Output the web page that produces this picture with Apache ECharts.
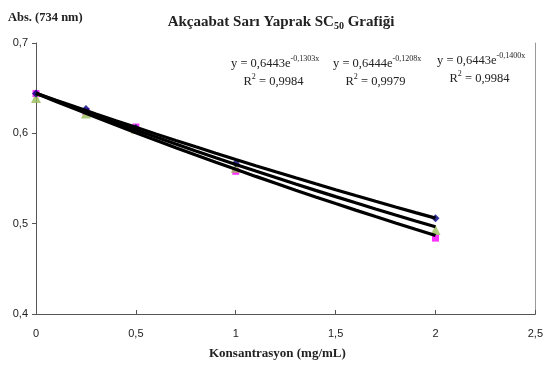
<!DOCTYPE html>
<html>
<head>
<meta charset="utf-8">
<script src="https://cdn.jsdelivr.net/npm/echarts@6/dist/echarts.min.js"></script>
<style>
  html, body { margin: 0; padding: 0; background: #fff; }
  #chart { width: 546px; height: 372px; }
</style>
</head>
<body>
<div id="chart"></div>
<script>
// Concentrations (mg/mL) and measured absorbance at 734 nm
const concentrations = [0, 0.25, 0.5, 1, 2];
const absNavy    = [0.644, 0.627, 0.606, 0.567, 0.506];
const absMagenta = [0.644, 0.624, 0.607, 0.558, 0.484];
const absGreen   = [0.639, 0.622, 0.605, 0.562, 0.493];

// Exponential trendline coefficients y = a * e^(b x), with R²
const fitNavy    = { a: 0.6444, b: -0.1208, r2: 0.9979 };
const fitGreen   = { a: 0.6443, b: -0.1303, r2: 0.9984 };
const fitMagenta = { a: 0.6443, b: -0.1400, r2: 0.9984 };

const xTicks = [0, 0.5, 1, 1.5, 2, 2.5];
const yTicks = [0.4, 0.5, 0.6, 0.7];

const comma = (v, d) => (d === undefined ? String(v) : v.toFixed(d)).replace('.', ',');

// sample a trendline over the measured concentration range
function trend(fit) {
  const pts = [];
  for (let i = 0; i <= 20; i++) {
    const x = 2 * i / 20;
    pts.push([x, fit.a * Math.exp(fit.b * x)]);
  }
  return pts;
}

function pairs(ys) { return concentrations.map((x, i) => [x, ys[i]]); }

const serif = 'Liberation Serif';
function eqText(fit, x, y) {
  return {
    type: 'text', left: x, top: y, z: 100,
    style: {
      text: '{m|y = ' + comma(fit.a, 4) + 'e}{s|' + comma(fit.b, 4) + 'x}\n{m|    R}{s|2}{m| = ' + comma(fit.r2, 4) + '}',
      rich: {
        m: { fontFamily: serif, fontSize: 12.5, fill: '#222', lineHeight: 18 },
        s: { fontFamily: serif, fontSize: 8, fill: '#222', verticalAlign: 'top', lineHeight: 18, padding: [0, 0, 6, 0] }
      }
    }
  };
}

const chart = echarts.init(document.getElementById('chart'));
const axisFont = { fontFamily: 'Liberation Sans Narrow, Liberation Sans', fontSize: 11, color: '#222' };

const trendStyle = { color: '#000', width: 3.2 };

chart.setOption({
  animation: false,
  backgroundColor: '#fff',
  grid: { left: 36, right: 8, top: 43, bottom: 58 },
  title: {
    text: 'Akçaabat Sarı Yaprak SC{sub|50} Grafiği',
    left: 276, top: 8, textAlign: 'center',
    textStyle: {
      fontFamily: serif, fontWeight: 'bold', fontSize: 15, color: '#222',
      rich: { sub: { fontFamily: serif, fontWeight: 'bold', fontSize: 10, color: '#222', verticalAlign: 'bottom', padding: [8, 0, 0, 0] } }
    }
  },
  graphic: [
    { type: 'text', left: 8, top: 11, style: { text: 'Abs. (734 nm)', fontFamily: serif, fontWeight: 'bold', fontSize: 12.5, fill: '#222' } },
    { type: 'text', left: 209, top: 347, style: { text: 'Konsantrasyon (mg/mL)', fontFamily: serif, fontWeight: 'bold', fontSize: 13, fill: '#222' } },
    eqText(fitGreen, 231, 55),
    eqText(fitNavy, 333, 55),
    eqText(fitMagenta, 437, 52)
  ],
  xAxis: {
    type: 'value', min: 0, max: 2.5, interval: 0.5,
    axisLine: { lineStyle: { color: '#555', width: 1 } },
    axisTick: { inside: true, length: 4, lineStyle: { color: '#555' } },
    axisLabel: Object.assign({ margin: 14, formatter: v => xTicks.includes(v) ? comma(v) : '' }, axisFont),
    splitLine: { show: false }
  },
  yAxis: [{
    type: 'value', min: 0.4, max: 0.7, interval: 0.1,
    axisLine: { show: true, lineStyle: { color: '#555', width: 1 } },
    axisTick: { show: true, length: 4, lineStyle: { color: '#555' } },
    axisLabel: Object.assign({ margin: 8, formatter: v => comma(Math.round(v * 10) / 10) }, axisFont),
    splitLine: { show: false }
  }, {
    type: 'value', min: 0.4, max: 0.7, position: 'right',
    axisLine: { show: true, lineStyle: { color: '#999', width: 1 } },
    axisTick: { show: false }, axisLabel: { show: false }, splitLine: { show: false }
  }],
  series: [
    { type: 'scatter', data: pairs(absMagenta), symbol: 'rect', symbolSize: 7, itemStyle: { color: '#ff00ff' }, z: 2 },
    { type: 'scatter', data: pairs(absGreen), symbol: 'triangle', symbolSize: 10, itemStyle: { color: '#9bbb59' }, z: 3 },
    { type: 'scatter', data: pairs(absNavy), symbol: 'diamond', symbolSize: 8, itemStyle: { color: '#000080' }, z: 4 },
    { type: 'line', data: trend(fitNavy), symbol: 'none', lineStyle: trendStyle, z: 5 },
    { type: 'line', data: trend(fitGreen), symbol: 'none', lineStyle: trendStyle, z: 5 },
    { type: 'line', data: trend(fitMagenta), symbol: 'none', lineStyle: trendStyle, z: 5 }
  ]
});
</script>
</body>
</html>
